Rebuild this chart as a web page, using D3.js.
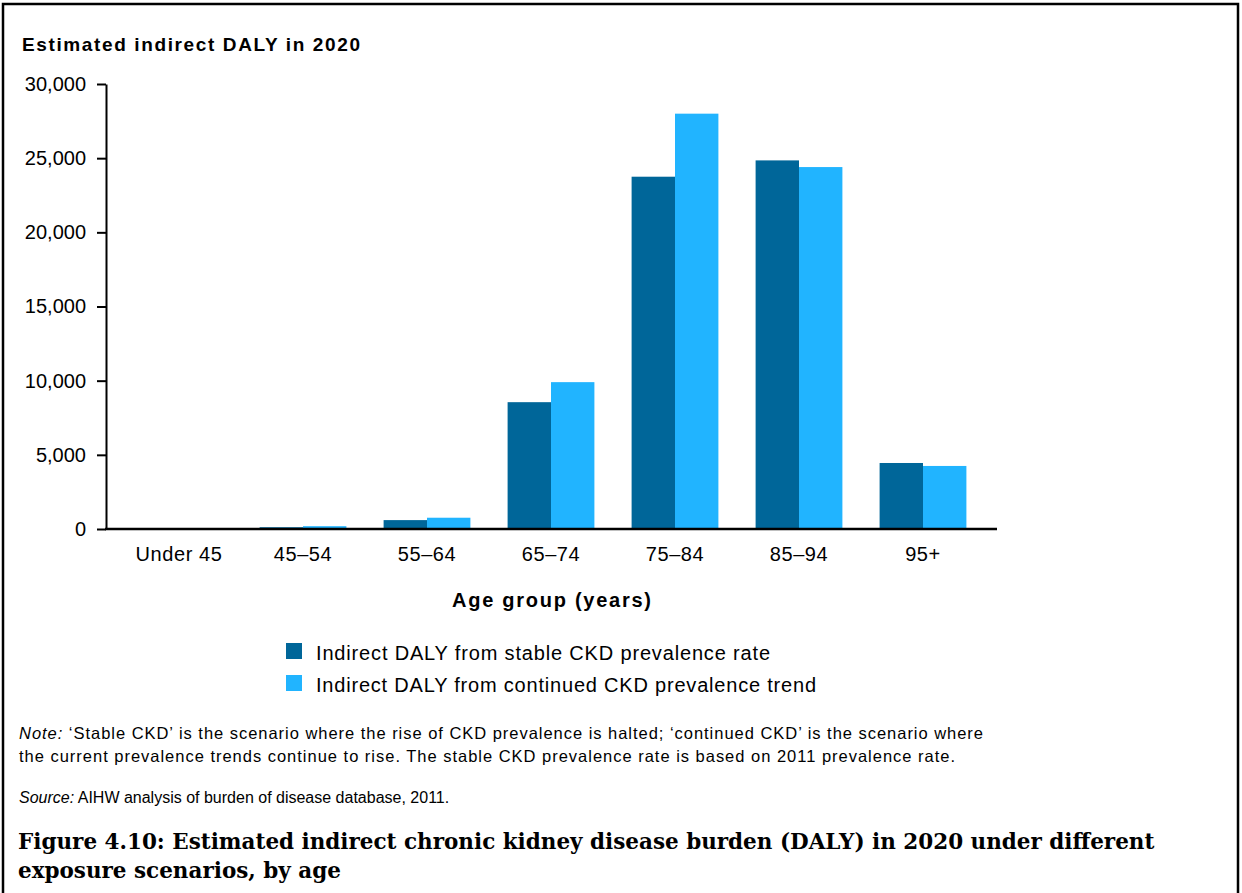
<!DOCTYPE html>
<html>
<head>
<meta charset="utf-8">
<script src="https://cdn.jsdelivr.net/npm/d3@7"></script>
<style>
  html, body { margin: 0; padding: 0; background: #fff; }
  svg { display: block; }
</style>
</head>
<body>
<svg id="chart" width="1242" height="893"></svg>
<script>
const categories = ["Under 45", "45\u201354", "55\u201364", "65\u201374", "75\u201384", "85\u201394", "95+"];
const seriesNames = [
  "Indirect DALY from stable CKD prevalence rate",
  "Indirect DALY from continued CKD prevalence trend"
];
const stableValues = [10, 120, 600, 8550, 23750, 24850, 4450];
const continuedValues = [15, 190, 760, 9900, 28000, 24400, 4250];
const yTicks = [0, 5000, 10000, 15000, 20000, 25000, 30000];
const colors = ["#006699", "#21B4FF"];

const svg = d3.select("#chart");
const font = "'Liberation Sans', Arial, sans-serif";
const serif = "'DejaVu Serif', 'Liberation Serif', serif";

function fit(sel, width) {
  sel.attr("textLength", width).attr("lengthAdjust", "spacing");
  return sel;
}

// frame (no bottom edge)
svg.append("path")
  .attr("d", "M3,893 L3,4 L1238,4 L1238,893")
  .attr("fill", "none").attr("stroke", "#000").attr("stroke-width", 2.5);

// chart title
fit(svg.append("text").attr("x", 22).attr("y", 51)
  .attr("font-family", font).attr("font-weight", "bold").attr("font-size", 19)
  .text("Estimated indirect DALY in 2020"), 338);

const y = d3.scaleLinear().domain([0, 30000]).range([529, 84]);
const x0 = d3.scaleBand().domain(categories).range([117, 985]).paddingInner(0.3).paddingOuter(0.15);
const x1 = d3.scaleBand().domain(seriesNames).range([0, x0.bandwidth()]);

const data = categories.map((c, i) => ({ cat: c, vals: [stableValues[i], continuedValues[i]] }));

// bars
const g = svg.append("g");
g.selectAll("g.grp").data(data).join("g").attr("class", "grp")
  .attr("transform", d => `translate(${x0(d.cat)},0)`)
  .selectAll("rect").data(d => d.vals.map((v, j) => ({ v, s: seriesNames[j], j })))
  .join("rect")
  .attr("x", d => x1(d.s))
  .attr("width", x1.bandwidth())
  .attr("y", d => y(d.v))
  .attr("height", d => y(0) - y(d.v))
  .attr("fill", d => colors[d.j]);

// y axis
const yAxis = svg.append("g").attr("transform", "translate(106,0)")
  .call(d3.axisLeft(y).tickValues(yTicks).tickFormat(d3.format(",")).tickSize(9).tickSizeOuter(0).tickPadding(11));
yAxis.select(".domain").attr("stroke-width", 2);
yAxis.selectAll(".tick line").attr("stroke-width", 2);
yAxis.selectAll(".tick text").attr("font-family", font).attr("font-size", 20).attr("fill", "#000");

// x axis
const xAxis = svg.append("g").attr("transform", "translate(0,529)")
  .call(d3.axisBottom(x0).tickSize(0).tickPadding(18));
xAxis.select(".domain").remove();
xAxis.selectAll(".tick text").attr("font-family", font).attr("font-size", 20)
  .attr("letter-spacing", 0.6).attr("fill", "#000");
svg.append("line").attr("x1", 105).attr("x2", 997).attr("y1", 529).attr("y2", 529)
  .attr("stroke", "#000").attr("stroke-width", 2.5);

// axis title
fit(svg.append("text").attr("x", 452).attr("y", 607)
  .attr("font-family", font).attr("font-weight", "bold").attr("font-size", 20)
  .text("Age group (years)"), 199);

// legend
const legendWidths = [454, 500];
const leg = svg.append("g");
seriesNames.forEach((s, i) => {
  leg.append("rect").attr("x", 286).attr("y", 643 + i * 32).attr("width", 16).attr("height", 16).attr("fill", colors[i]);
  fit(leg.append("text").attr("x", 316).attr("y", 660 + i * 32)
    .attr("font-family", font).attr("font-size", 20)
    .text(s), legendWidths[i]);
});

// note
const note1 = svg.append("text").attr("x", 19).attr("y", 739).attr("font-family", font).attr("font-size", 16.5);
note1.append("tspan").attr("font-style", "italic").text("Note:");
note1.append("tspan").text(" \u2018Stable CKD\u2019 is the scenario where the rise of CKD prevalence is halted; \u2018continued CKD\u2019 is the scenario where");
fit(note1, 964);
fit(svg.append("text").attr("x", 19).attr("y", 762).attr("font-family", font).attr("font-size", 16.5)
  .text("the current prevalence trends continue to rise. The stable CKD prevalence rate is based on 2011 prevalence rate."), 936);
const src = svg.append("text").attr("x", 19).attr("y", 803).attr("font-family", font).attr("font-size", 16);
src.append("tspan").attr("font-style", "italic").text("Source:");
src.append("tspan").text(" AIHW analysis of burden of disease database, 2011.");

// caption
const cap1 = svg.append("text").attr("x", 18).attr("y", 849)
  .attr("font-family", serif).attr("font-weight", "bold").attr("font-size", 22)
  .text("Figure 4.10: Estimated indirect chronic kidney disease burden (DALY) in 2020 under different");
const cap2 = svg.append("text").attr("x", 18).attr("y", 878)
  .attr("font-family", serif).attr("font-weight", "bold").attr("font-size", 22)
  .text("exposure scenarios, by age");
const w1 = cap1.node().getComputedTextLength();
const fs = 22 * 1137 / w1;
cap1.attr("font-size", fs);
cap2.attr("font-size", fs);
</script>
</body>
</html>
